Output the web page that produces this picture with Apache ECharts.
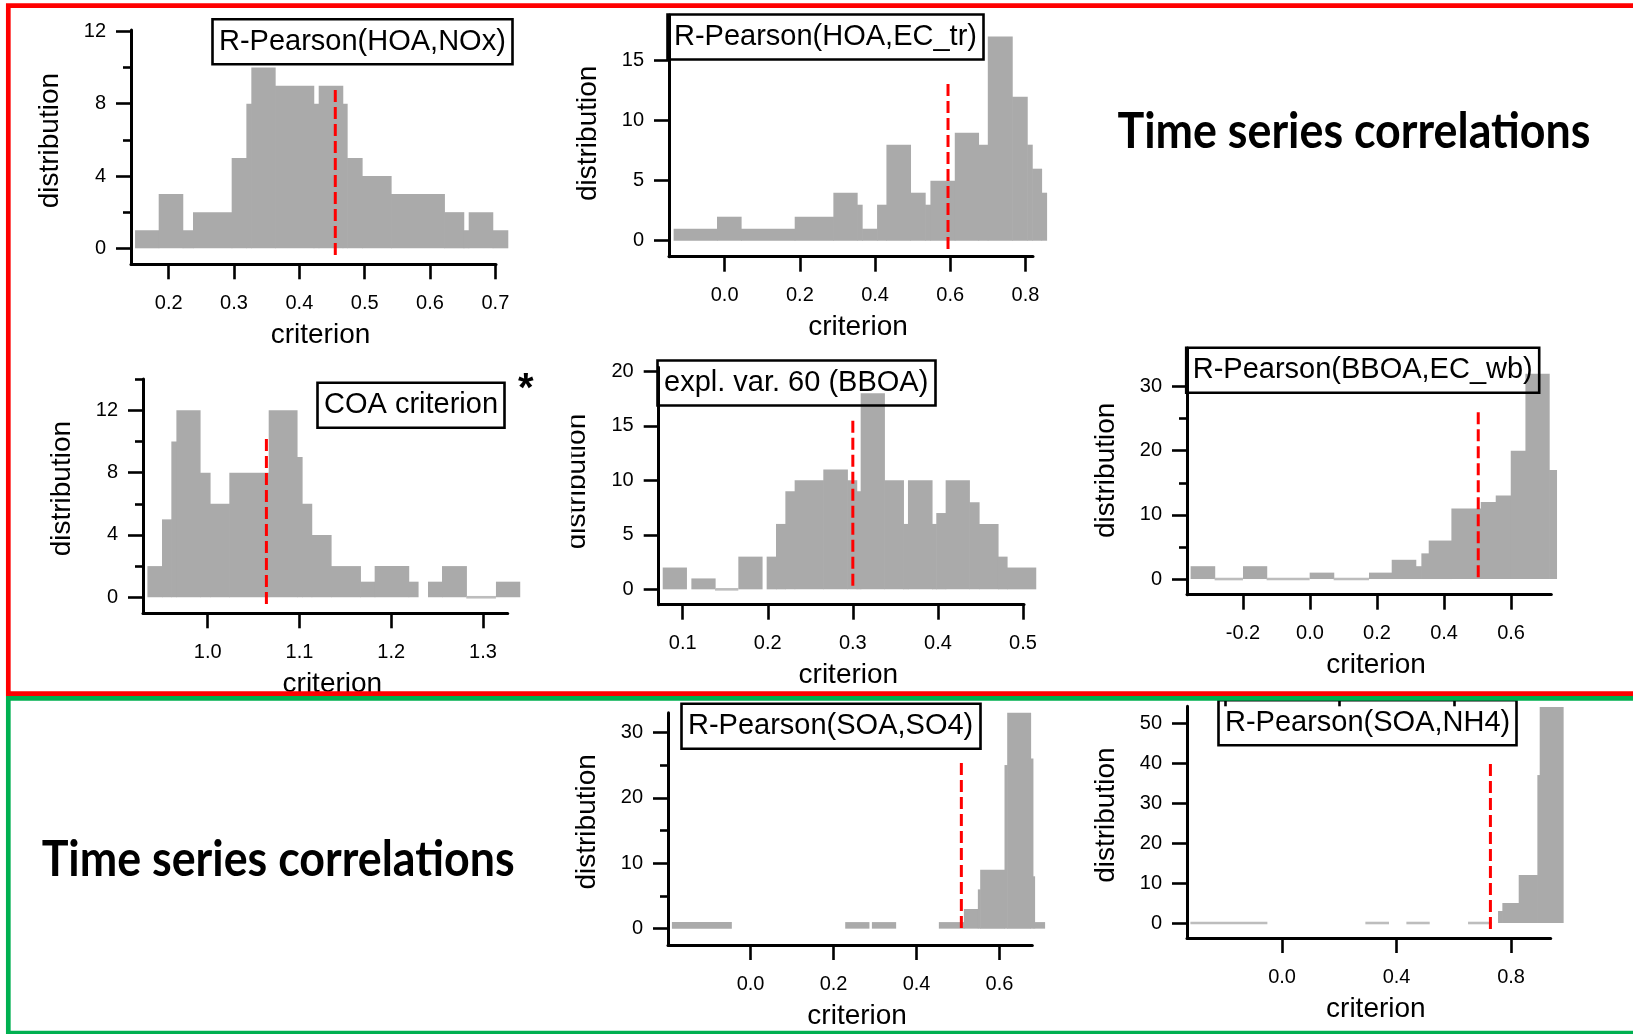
<!DOCTYPE html>
<html>
<head>
<meta charset="utf-8">
<script src="https://cdn.jsdelivr.net/npm/echarts@6/dist/echarts.min.js"></script>
<style>
  html, body { margin: 0; padding: 0; background: #ffffff; }
  #chart { width: 1633px; height: 1034px; }
</style>
</head>
<body>
<div id="chart"></div>
<script>
// ---- Histogram data: bin edges, counts per bin (null = empty gap), criterion value ----

// R-Pearson(HOA,NOx)
const hoaNoxEdges  = [0.1485, 0.1847, 0.2214, 0.2372, 0.2964, 0.3189, 0.3265, 0.3628, 0.4219, 0.4296, 0.4663, 0.4730, 0.4959, 0.5403, 0.6219, 0.6515, 0.6592, 0.6959, 0.7189];
const hoaNoxCounts = [1, 3, 1, 2, 5, 8, 10, 9, 8, 9, 8, 5, 4, 3, 2, 1, 2, 1];
const hoaNoxCut = 0.455;
const hoaNoxXTicks = [0.2, 0.3, 0.4, 0.5, 0.6, 0.7];
const hoaNoxYTicks = [0, 4, 8, 12];
const hoaNoxYMinor = [2, 6, 10];

// R-Pearson(HOA,EC_tr)
const hoaEcEdges  = [-0.1357, -0.0204, 0.0435, 0.1863, 0.2891, 0.3521, 0.3654, 0.4053, 0.4302, 0.4940, 0.5330, 0.5472, 0.6120, 0.6749, 0.6998, 0.7645, 0.8044, 0.8177, 0.8426, 0.8559];
const hoaEcCounts = [1, 2, 1, 2, 4, 3, 1, 3, 8, 4, 3, 5, 9, 8, 17, 12, 8, 6, 4];
const hoaEcCut = 0.594;
const hoaEcXTicks = [0.0, 0.2, 0.4, 0.6, 0.8];
const hoaEcYTicks = [0, 5, 10, 15];

// COA criterion
const coaEdges  = [0.9343, 0.9502, 0.9604, 0.9659, 0.9916, 1.0025, 1.0236, 1.0665, 1.0973, 1.1028, 1.1133, 1.1344, 1.1664, 1.1820, 1.2190, 1.2292, 1.2401, 1.2554, 1.2819, 1.3142, 1.3400];
const coaCounts = [2, 5, 10, 12, 8, 6, 8, 12, 9, 6, 4, 2, 1, 2, 1, null, 1, 2, 0, 1];
const coaCut = 1.064;
const coaXTicks = [1.0, 1.1, 1.2, 1.3];
const coaYTicks = [0, 4, 8, 12];
const coaYMinor = [2, 6, 10, 14];

// expl. var. 60 (BBOA)
const bboaVarEdges  = [0.0765, 0.1043, 0.1102, 0.1380, 0.1654, 0.1932, 0.1987, 0.2097, 0.2207, 0.2316, 0.2653, 0.2935, 0.3045, 0.3092, 0.3370, 0.3594, 0.3648, 0.3930, 0.3981, 0.4091, 0.4369, 0.4483, 0.4706, 0.4812, 0.5149];
const bboaVarCounts = [2, null, 1, 0, 3, null, 3, 6, 9, 10, 11, 10, 9, 18, 10, 6, 10, 6, 7, 10, 8, 6, 3, 2];
const bboaVarCut = 0.300;
const bboaVarXTicks = [0.1, 0.2, 0.3, 0.4, 0.5];
const bboaVarYTicks = [0, 5, 10, 15, 20];

// R-Pearson(BBOA,EC_wb)
const bboaEcEdges  = [-0.3562, -0.2846, -0.2, -0.1294, -0.001, 0.0706, 0.1761, 0.2438, 0.3154, 0.3323, 0.3542, 0.4219, 0.5095, 0.5542, 0.5990, 0.6428, 0.7134, 0.7353];
const bboaEcCounts = [2, 0, 2, 0, 1, 0, 1, 3, 2, 4, 6, 11, 12, 13, 20, 32, 17];
const bboaEcCut = 0.502;
const bboaEcXTicks = [-0.2, 0.0, 0.2, 0.4, 0.6];
const bboaEcYTicks = [0, 10, 20, 30];
const bboaEcYMinor = [5, 15, 25];

// R-Pearson(SOA,SO4)
const soaSo4Edges  = [-0.1896, -0.0466, 0.2281, 0.2851, 0.2924, 0.3494, 0.4538, 0.5141, 0.5478, 0.5534, 0.6120, 0.6185, 0.6747, 0.6803, 0.6843, 0.7084];
const soaSo4Counts = [1, null, 1, null, 1, null, 1, 3, 6, 9, 25, 33, 26, 8, 1];
const soaSo4Cut = 0.508;
const soaSo4XTicks = [0.0, 0.2, 0.4, 0.6];
const soaSo4YTicks = [0, 10, 20, 30];
const soaSo4YMinor = [5, 15, 25];

// R-Pearson(SOA,NH4)
const soaNh4Edges  = [-0.3202, -0.0512, 0.2911, 0.3738, 0.4344, 0.5159, 0.6498, 0.7336, 0.7546, 0.7697, 0.8268, 0.8920, 0.9002, 0.9817];
const soaNh4Counts = [0, null, 0, null, 0, null, 0, null, 3, 5, 12, 37, 54];
const soaNh4Cut = 0.728;
const soaNh4XTicks = [0.0, 0.4, 0.8];
const soaNh4XMinor = [-0.2, 0.2, 0.6];
const soaNh4YTicks = [0, 10, 20, 30, 40, 50];

const panelTitles = ['R-Pearson(HOA,NOx)', 'R-Pearson(HOA,EC_tr)', 'COA criterion', 'expl. var. 60 (BBOA)', 'R-Pearson(BBOA,EC_wb)', 'R-Pearson(SOA,SO4)', 'R-Pearson(SOA,NH4)'];
const headline = 'Time series correlations';

// ---- Layout of the seven panels ----
const FONT = '"Liberation Sans", Arial, sans-serif';
const BAR_GRAY = '#aaaaaa';
const ZERO_GRAY = '#bdbdbd';

const panels = [
  { grid: [131, 30, 365, 234.3],     x: [0.1423, 0.701],  y: [-0.885, 12.08], edges: hoaNoxEdges,  counts: hoaNoxCounts,  cut: hoaNoxCut,  cutSpan: [8.76, -0.37], xTicks: hoaNoxXTicks,  xMinor: null,         yTicks: hoaNoxYTicks,  yMinor: hoaNoxYMinor, shift: 13, box: [212, 18.7] },
  { grid: [669, 15, 364, 241.7],     x: [-0.148, 0.820],  y: [-1.33, 18.8],   edges: hoaEcEdges,   counts: hoaEcCounts,   cut: hoaEcCut,   cutSpan: [13.06, -0.72], xTicks: hoaEcXTicks,  xMinor: null,         yTicks: hoaEcYTicks,   yMinor: null,         shift: 5,  box: [667, 14] },
  { grid: [143, 379, 364.7, 234.3],  x: [0.9295, 1.327],  y: [-1.03, 14.01],  edges: coaEdges,     counts: coaCounts,     cut: coaCut,     cutSpan: [10.16, -0.45], xTicks: coaXTicks,    xMinor: null,         yTicks: coaYTicks,     yMinor: coaYMinor,    shift: 15, box: [317, 382.3] },
  { grid: [658.7, 367.3, 365.3, 237.4], x: [0.0718, 0.5012], y: [-1.41, 20.37], edges: bboaVarEdges, counts: bboaVarCounts, cut: bboaVarCut, cutSpan: [15.47, 0.18], xTicks: bboaVarXTicks, xMinor: null,        yTicks: bboaVarYTicks, yMinor: null,         shift: 9,  box: [657, 360] },
  { grid: [1187, 348, 364.3, 246.7], x: [-0.367, 0.720],  y: [-2.44, 36.0],   edges: bboaEcEdges,  counts: bboaEcCounts,  cut: bboaEcCut,  cutSpan: [26.0, 0.26],  xTicks: bboaEcXTicks,  xMinor: null,         yTicks: bboaEcYTicks,  yMinor: bboaEcYMinor, shift: 2,  box: [1185.7, 347.3] },
  { grid: [668, 712.7, 364.3, 232.3], x: [-0.199, 0.679], y: [-2.5, 33.0],    edges: soaSo4Edges,  counts: soaSo4Counts,  cut: soaSo4Cut,  cutSpan: [25.3, -0.2],  xTicks: soaSo4XTicks,  xMinor: null,         yTicks: soaSo4YTicks,  yMinor: soaSo4YMinor, shift: 14, box: [681, 703.3] },
  { grid: [1187, 706.3, 363.7, 231.7], x: [-0.332, 0.9386], y: [-3.75, 54.2], edges: soaNh4Edges,  counts: soaNh4Counts,  cut: soaNh4Cut,  cutSpan: [39.8, -1.67], xTicks: soaNh4XTicks,  xMinor: soaNh4XMinor, yTicks: soaNh4YTicks,  yMinor: null,         shift: 14, box: [1218, 699.7] }
];

function toBins(edges, counts) {
  const out = [];
  counts.forEach((c, i) => { if (c !== null) out.push([edges[i], edges[i + 1], c]); });
  return out;
}

// Each bin is a filled rectangle from 0 to its count; empty bins show as a thin baseline.
function renderBin(params, api) {
  const x0 = api.value(0), x1 = api.value(1), n = api.value(2);
  const a = api.coord([x0, 0]);
  const b = api.coord([x1, n]);
  if (n === 0) {
    return { type: 'rect', shape: { x: a[0], y: a[1] - 1.3, width: b[0] - a[0], height: 2.6 }, style: { fill: ZERO_GRAY } };
  }
  return { type: 'rect', shape: { x: a[0], y: b[1], width: b[0] - a[0] + 0.6, height: a[1] - b[1] }, style: { fill: BAR_GRAY } };
}

const grids = [], xAxes = [], yAxes = [], series = [], titles = [];
const axisLineStyle = { show: true, onZero: false, lineStyle: { color: '#000', width: 3 } };

panels.forEach((p, i) => {
  grids.push({ left: p.grid[0], top: p.grid[1], width: p.grid[2], height: p.grid[3], containLabel: false });

  // main x axis (labels + major ticks)
  xAxes.push({
    type: 'value', gridIndex: i, min: p.x[0], max: p.x[1],
    axisLine: axisLineStyle,
    axisTick: { show: true, length: 15, customValues: p.xTicks, lineStyle: { color: '#000', width: 2.6 } },
    axisLabel: { show: true, customValues: p.xTicks, margin: 29, fontSize: 20, fontFamily: FONT, color: '#000', formatter: v => v.toFixed(1) },
    splitLine: { show: false },
    name: 'criterion', nameLocation: 'middle', nameGap: 56,
    nameTextStyle: { fontSize: 28, fontFamily: FONT, color: '#000', lineHeight: 30, padding: [0, 0, 0, 14] }
  });
  // minor x ticks
  xAxes.push({
    type: 'value', gridIndex: i, min: p.x[0], max: p.x[1],
    axisLine: { show: false, onZero: false },
    axisTick: p.xMinor ? { show: true, length: 8, customValues: p.xMinor, lineStyle: { color: '#000', width: 2.6 } } : { show: false },
    axisLabel: { show: false }, splitLine: { show: false }
  });
  // main y axis
  yAxes.push({
    type: 'value', gridIndex: i, min: p.y[0], max: p.y[1], position: 'left',
    axisLine: axisLineStyle,
    axisTick: { show: true, length: 15, customValues: p.yTicks, lineStyle: { color: '#000', width: 2.6 } },
    axisLabel: { show: true, customValues: p.yTicks, margin: 25, fontSize: 20, fontFamily: FONT, color: '#000' },
    splitLine: { show: false },
    name: 'distribution', nameLocation: 'middle', nameGap: 66,
    nameTextStyle: { fontSize: 28, fontFamily: FONT, color: '#000', lineHeight: 30, padding: [0, 0, 0, p.shift] }
  });
  // minor y ticks
  yAxes.push({
    type: 'value', gridIndex: i, min: p.y[0], max: p.y[1], position: 'left', offset: 0,
    axisLine: { show: false, onZero: false },
    axisTick: p.yMinor ? { show: true, length: 8, customValues: p.yMinor, lineStyle: { color: '#000', width: 2.6 } } : { show: false },
    axisLabel: { show: false }, splitLine: { show: false }
  });

  series.push({
    type: 'custom', xAxisIndex: 2 * i, yAxisIndex: 2 * i, clip: false, silent: true,
    renderItem: renderBin, encode: { x: [0, 1], y: 2 },
    data: toBins(p.edges, p.counts), z: 2
  });
  series.push({
    type: 'line', xAxisIndex: 2 * i, yAxisIndex: 2 * i, clip: false, silent: true,
    showSymbol: false, symbol: 'none',
    data: [[p.cut, p.cutSpan[0]], [p.cut, p.cutSpan[1]]],
    lineStyle: { color: '#ff0000', width: 3, type: [12, 5] }, z: 5
  });

  titles.push({
    text: panelTitles[i], left: p.box[0], top: p.box[1],
    padding: [5, 7, 5, 7], borderColor: '#000', borderWidth: 2.6,
    textStyle: { fontSize: 29, fontFamily: FONT, fontWeight: 'normal', color: '#000', lineHeight: 36 }
  });
});

titles.push({ text: '*', left: 518, top: 370, padding: 0, textStyle: { fontSize: 40, fontFamily: FONT, fontWeight: 'bold', color: '#000', lineHeight: 40 } });

// Section headlines: a bold face, squeezed horizontally to the section width.
const HEAD_FONT = 'bold 48px Lato, "Liberation Sans", sans-serif';
const HEAD_WIDTH = 473;
const measureCtx = document.createElement('canvas').getContext('2d');
measureCtx.font = HEAD_FONT;
const headScale = HEAD_WIDTH / measureCtx.measureText(headline).width;

function headlineText(x, y) {
  return {
    type: 'text', z: 50, x: x, y: y, scaleX: headScale, scaleY: 1.04,
    style: { text: headline, x: 0, y: 0, font: HEAD_FONT, fill: '#000', textAlign: 'left', textVerticalAlign: 'middle' }
  };
}

const chart = echarts.init(document.getElementById('chart'), null, { renderer: 'canvas' });
chart.setOption({
  animation: false,
  backgroundColor: '#ffffff',
  title: titles,
  grid: grids,
  xAxis: xAxes,
  yAxis: yAxes,
  series: series,
  graphic: [
    headlineText(1117.5, 132),
    headlineText(41.7, 860),
    // the axis title of the BBOA variance panel is cut off on its left side
    { type: 'rect', z: 100, shape: { x: 540, y: 395, width: 31.3, height: 175 }, style: { fill: '#ffffff' } },
    // section frames
    { type: 'rect', z: 101, shape: { x: 8.3, y: 5.7, width: 1700, height: 688 }, style: { fill: null, stroke: '#ff0000', lineWidth: 4.7 } },
    { type: 'rect', z: 101, shape: { x: 8.3, y: 698.3, width: 1700, height: 334.7 }, style: { fill: null, stroke: '#00b050', lineWidth: 4.7 } }
  ]
});
</script>
</body>
</html>
